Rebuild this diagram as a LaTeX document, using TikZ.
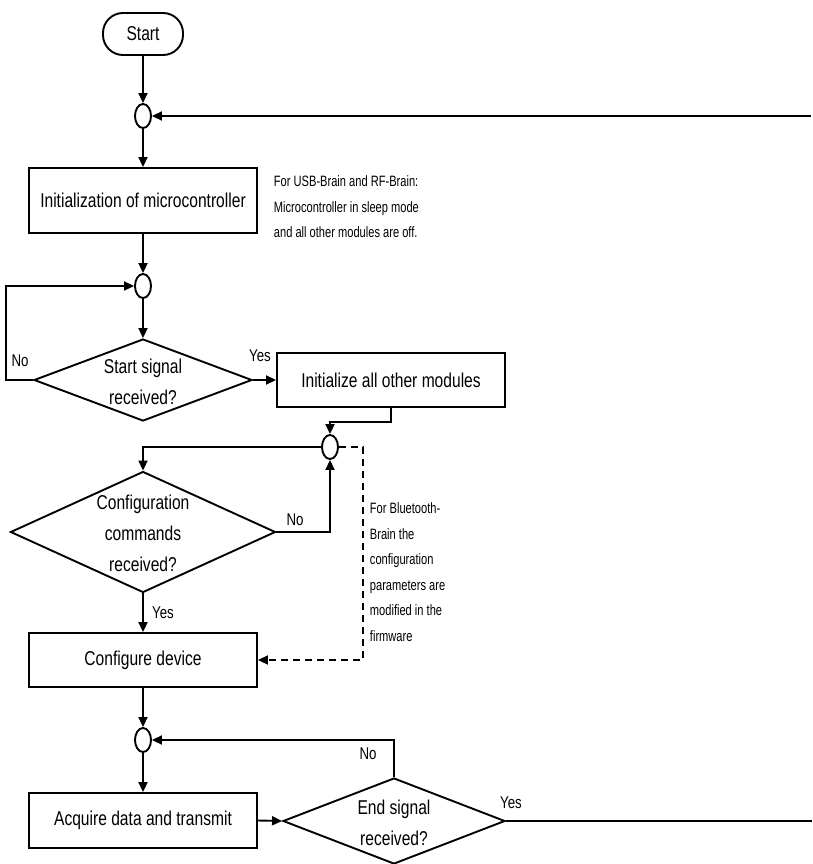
\documentclass[tikz,border=0pt]{standalone}
\usepackage{fontspec}
\setmainfont{Liberation Sans}[FakeStretch=0.78]
\newfontfamily\notefont{Liberation Sans}[FakeStretch=0.74]
\usetikzlibrary{shapes.geometric,arrows.meta}
\begin{document}
\begin{tikzpicture}[x=1pt,y=-1pt,line width=1.9pt,
  >={Triangle[length=10pt,width=9pt]},
  box/.style={draw,rectangle,minimum width=228pt,inner sep=0pt,font=\fontsize{20}{31}\selectfont},
  term/.style={draw,rectangle,rounded corners=20pt,minimum width=80pt,minimum height=42pt,inner sep=0pt,font=\fontsize{20}{31}\selectfont},
  junc/.style={draw,ellipse,minimum width=16pt,minimum height=24pt,inner sep=0pt},
  dia/.style={draw,diamond,inner sep=0pt},
  dtext/.style={align=center,inner sep=0pt,font=\fontsize{20}{31}\selectfont},
  lbl/.style={inner sep=0pt,font=\fontsize{17}{20}\selectfont},
  note/.style={anchor=west,align=left,inner sep=0pt,font=\notefont\fontsize{15}{25.5}\selectfont},
  flow/.style={->},
  dashflow/.style={->,dash pattern=on 7pt off 5pt}
]
\useasboundingbox (0,0) rectangle (812,864);
\fill[white] (0,0) rectangle (812,864);

\node[term] (start) at (143,34) {Start};
\node[junc] (j1) at (143,116) {};
\node[box,minimum height=65pt] (b1) at (143,200.5) {Initialization of microcontroller};
\node[note] (n1) at (273,207) {For USB-Brain and RF-Brain:\\Microcontroller in sleep mode\\and all other modules are off.};
\node[junc] (j2) at (143,286) {};
\node[dia,minimum width=218pt,minimum height=82pt,aspect=2.66] (d1) at (143,380) {};
\node[dtext] (d1t) at (143,382) {Start signal\\received?};
\node[box,minimum height=54pt] (b2) at (391,380) {Initialize all other modules};
\node[junc] (j3) at (330,447) {};
\node[dia,minimum width=265pt,minimum height=121pt,aspect=2.19] (d2) at (143,532) {};
\node[dtext] (d2t) at (143,533) {Configuration\\commands\\received?};
\node[note] (n2) at (369,572) {For Bluetooth-\\Brain the\\configuration\\parameters are\\modified in the\\firmware};
\node[box,minimum height=54pt] (b3) at (143,660) {Configure device};
\node[junc] (j4) at (143,740) {};
\node[box,minimum height=55pt] (b4) at (143,820.5) {Acquire data and transmit};
\node[dia,minimum width=222pt,minimum height=86pt,aspect=2.58] (d3) at (394,821) {};
\node[dtext] (d3t) at (394,823) {End signal\\received?};
\coordinate (r1) at (811,116);
\coordinate (r2) at (812,821);

\node[lbl] (l1) at (20,361) {No};
\node[lbl] (l2) at (260,356) {Yes};
\node[lbl] (l3) at (295,520) {No};
\node[lbl] (l4) at (163,613) {Yes};
\node[lbl] (l5) at (368,754) {No};
\node[lbl] (l6) at (511,803) {Yes};

\draw[flow] (start) -- (j1);
\draw[flow] (r1) -- (j1.east);
\draw[flow] (j1) -- (b1);
\draw[flow] (b1) -- (j2);
\draw[flow] (j2) -- (d1.north);
\draw[flow] (d1.west) -- ++(-27,0) |- (j2.west);
\draw[flow] (d1.east) -- (b2.west);
\draw[flow] (b2.south) -- ++(0,14) -| (j3.north);
\draw[flow] (j3.west) -| (d2.north);
\draw[flow] (d2.east) -| (j3.south);
\draw[dashflow] (j3.east) -- ++(24,0) |- (b3.east);
\draw[flow] (d2.south) -- (b3.north);
\draw[flow] (b3) -- (j4);
\draw[flow] (j4) -- (b4);
\draw[flow] (b4.east) -- (d3.west);
\draw[flow] (d3.north) |- (j4.east);
\draw (d3.east) -- (r2);
\end{tikzpicture}
\end{document}
